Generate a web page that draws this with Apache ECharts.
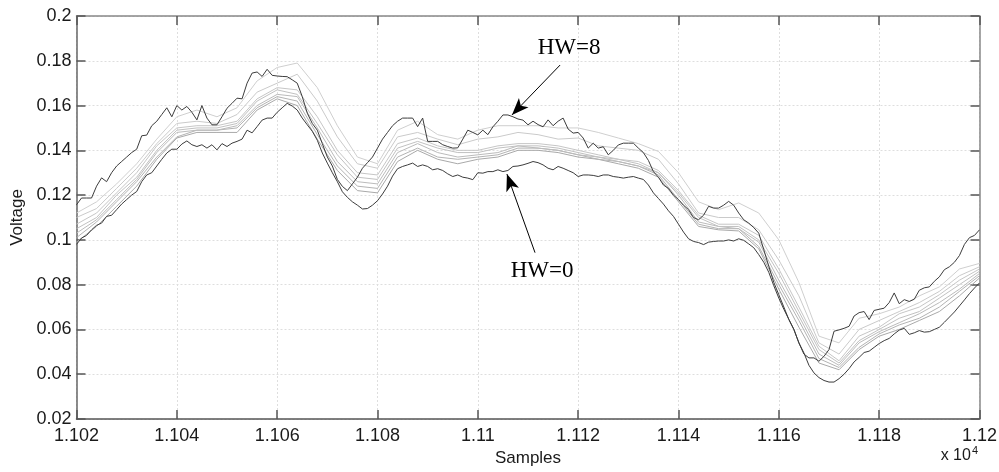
<!DOCTYPE html>
<html><head><meta charset="utf-8">
<script src="https://cdn.jsdelivr.net/npm/echarts@6/dist/echarts.min.js"></script>
<style>html,body{margin:0;padding:0;background:#fff}#c{width:999px;height:472px}</style>
</head><body><div id="c"></div>
<script>
// sample positions: every sample (dark curves) and every 4th sample (grey curves)
const samples1 = [11020,11021,11022,11023,11024,11025,11026,11027,11028,11029,
11030,11031,11032,11033,11034,11035,11036,11037,11038,11039,
11040,11041,11042,11043,11044,11045,11046,11047,11048,11049,
11050,11051,11052,11053,11054,11055,11056,11057,11058,11059,
11060,11061,11062,11063,11064,11065,11066,11067,11068,11069,
11070,11071,11072,11073,11074,11075,11076,11077,11078,11079,
11080,11081,11082,11083,11084,11085,11086,11087,11088,11089,
11090,11091,11092,11093,11094,11095,11096,11097,11098,11099,
11100,11101,11102,11103,11104,11105,11106,11107,11108,11109,
11110,11111,11112,11113,11114,11115,11116,11117,11118,11119,
11120,11121,11122,11123,11124,11125,11126,11127,11128,11129,
11130,11131,11132,11133,11134,11135,11136,11137,11138,11139,
11140,11141,11142,11143,11144,11145,11146,11147,11148,11149,
11150,11151,11152,11153,11154,11155,11156,11157,11158,11159,
11160,11161,11162,11163,11164,11165,11166,11167,11168,11169,
11170,11171,11172,11173,11174,11175,11176,11177,11178,11179,
11180,11181,11182,11183,11184,11185,11186,11187,11188,11189,
11190,11191,11192,11193,11194,11195,11196,11197,11198,11199,
11200];
const samples4 = [11020,11024,11028,11032,11036,11040,11044,11048,11052,11056,11060,11064,11068,11072,11076,11080,11084,11088,11092,11096,11100,11104,11108,11112,11116,11120,11124,11128,11132,11136,11140,11144,11148,11152,11156,11160,11164,11168,11172,11176,11180,11184,11188,11192,11196,11200];

const hw8 = [0.1157,0.1187,0.1187,0.1187,0.124,0.1277,0.126,0.130,0.133,0.135,
0.137,0.139,0.1405,0.1465,0.1468,0.151,0.153,0.156,0.159,0.155,
0.160,0.158,0.1596,0.157,0.1536,0.160,0.1544,0.1514,0.1514,0.155,
0.1588,0.161,0.1633,0.163,0.170,0.1745,0.175,0.173,0.1762,0.1735,
0.1732,0.173,0.1729,0.1715,0.170,0.164,0.1566,0.152,0.149,0.143,
0.137,0.133,0.127,0.1239,0.122,0.125,0.128,0.132,0.1345,0.137,
0.141,0.145,0.148,0.151,0.153,0.1544,0.1544,0.1544,0.1506,0.1544,
0.144,0.144,0.144,0.1425,0.1417,0.141,0.1411,0.145,0.149,0.148,
0.1469,0.149,0.147,0.1505,0.153,0.1558,0.1558,0.155,0.154,0.1535,
0.1514,0.153,0.1515,0.1505,0.1536,0.151,0.153,0.1544,0.1495,0.1477,
0.148,0.1455,0.141,0.1432,0.141,0.1416,0.138,0.140,0.1424,0.1432,
0.1432,0.1432,0.141,0.139,0.1355,0.1305,0.128,0.1245,0.123,0.120,
0.118,0.1155,0.1135,0.110,0.109,0.111,0.115,0.1142,0.1142,0.1155,
0.1172,0.1155,0.112,0.109,0.1075,0.1055,0.103,0.0956,0.0882,0.081,
0.0755,0.070,0.0644,0.060,0.054,0.049,0.0473,0.0473,0.0458,0.048,
0.051,0.0592,0.0598,0.0605,0.0614,0.066,0.0675,0.068,0.0644,0.0685,
0.069,0.0695,0.072,0.0763,0.0715,0.0733,0.0725,0.0735,0.0775,0.0786,
0.079,0.0815,0.0835,0.0867,0.088,0.090,0.093,0.098,0.101,0.102,
0.1045];
const hw0 = [0.098,0.1008,0.102,0.1045,0.1065,0.1075,0.1105,0.111,0.1135,0.116,
0.118,0.120,0.1216,0.126,0.129,0.130,0.133,0.136,0.1388,0.1405,
0.1405,0.1428,0.1442,0.1425,0.1417,0.1425,0.141,0.1425,0.1402,0.143,
0.1417,0.1432,0.144,0.145,0.149,0.1478,0.1506,0.1535,0.1544,0.1544,
0.157,0.159,0.161,0.1598,0.158,0.1544,0.1514,0.1485,0.1445,0.1388,
0.1343,0.130,0.126,0.1215,0.119,0.117,0.1155,0.1138,0.114,0.1155,
0.1175,0.1205,0.124,0.1285,0.1318,0.1328,0.1335,0.1343,0.1328,0.1335,
0.1328,0.1313,0.1318,0.131,0.1295,0.1283,0.129,0.128,0.1276,0.1269,
0.130,0.1298,0.1305,0.1305,0.1313,0.1305,0.131,0.1328,0.133,0.1335,
0.1342,0.135,0.1345,0.1335,0.132,0.1313,0.1328,0.132,0.131,0.130,
0.1283,0.129,0.129,0.1288,0.1283,0.129,0.129,0.1283,0.128,0.1276,
0.128,0.1283,0.1276,0.127,0.1245,0.121,0.1185,0.116,0.113,0.1105,
0.107,0.1035,0.1005,0.0993,0.0988,0.0979,0.099,0.0993,0.0995,0.0995,
0.100,0.0995,0.1005,0.0998,0.0982,0.0965,0.0934,0.090,0.0855,0.0795,
0.074,0.069,0.0645,0.060,0.054,0.0495,0.044,0.0406,0.0385,0.0372,
0.0365,0.0365,0.038,0.040,0.0425,0.0455,0.0475,0.0497,0.0503,0.052,
0.0537,0.055,0.056,0.058,0.0597,0.0605,0.0578,0.0585,0.0595,0.0588,
0.059,0.060,0.061,0.0632,0.0655,0.0678,0.0705,0.0732,0.076,0.0785,
0.0808];
const hw1 = [0.099,0.106,0.115,0.124,0.136,0.1455,0.148,0.148,0.148,0.158,0.163,0.160,0.145,0.131,0.122,0.121,0.135,0.140,0.136,0.134,0.136,0.137,0.140,0.140,0.139,0.137,0.136,0.134,0.132,0.128,0.117,0.106,0.1045,0.104,0.096,0.078,0.061,0.045,0.042,0.051,0.057,0.060,0.064,0.068,0.075,0.083];
const hw2 = [0.101,0.108,0.117,0.126,0.137,0.146,0.149,0.149,0.150,0.159,0.164,0.162,0.147,0.133,0.124,0.123,0.137,0.141,0.137,0.136,0.137,0.138,0.141,0.141,0.140,0.138,0.136,0.135,0.133,0.129,0.118,0.107,0.105,0.105,0.097,0.080,0.064,0.047,0.043,0.052,0.058,0.062,0.065,0.070,0.077,0.084];
const hw3 = [0.103,0.109,0.118,0.127,0.139,0.148,0.149,0.149,0.151,0.160,0.165,0.164,0.150,0.135,0.126,0.125,0.139,0.143,0.139,0.137,0.138,0.139,0.142,0.141,0.140,0.138,0.137,0.135,0.133,0.130,0.120,0.108,0.106,0.105,0.099,0.082,0.066,0.049,0.044,0.054,0.059,0.063,0.067,0.072,0.078,0.085];
const hw4 = [0.105,0.110,0.120,0.128,0.140,0.149,0.150,0.150,0.152,0.162,0.167,0.165,0.152,0.138,0.128,0.127,0.141,0.144,0.141,0.139,0.139,0.141,0.142,0.142,0.141,0.139,0.137,0.136,0.134,0.130,0.121,0.110,0.106,0.106,0.100,0.085,0.068,0.051,0.045,0.055,0.060,0.065,0.068,0.074,0.080,0.086];
const hw5 = [0.107,0.112,0.121,0.130,0.142,0.150,0.151,0.151,0.153,0.163,0.168,0.167,0.155,0.140,0.130,0.129,0.143,0.1455,0.142,0.140,0.140,0.142,0.143,0.143,0.142,0.140,0.138,0.136,0.135,0.131,0.122,0.111,0.107,0.107,0.102,0.087,0.070,0.0525,0.046,0.057,0.061,0.067,0.070,0.0755,0.082,0.087];
const hw6 = [0.110,0.114,0.123,0.132,0.143,0.152,0.153,0.152,0.156,0.166,0.170,0.174,0.162,0.146,0.134,0.132,0.146,0.148,0.145,0.1425,0.145,0.146,0.148,0.147,0.145,0.1455,0.142,0.141,0.140,0.136,0.125,0.112,0.110,0.110,0.1045,0.091,0.075,0.054,0.049,0.060,0.064,0.068,0.072,0.077,0.084,0.088];
const hw7 = [0.112,0.117,0.125,0.134,0.145,0.155,0.158,0.155,0.159,0.171,0.177,0.179,0.168,0.151,0.137,0.134,0.149,0.153,0.147,0.145,0.149,0.151,0.151,0.151,0.150,0.150,0.148,0.1455,0.143,0.1395,0.130,0.117,0.1135,0.1165,0.112,0.100,0.081,0.057,0.054,0.065,0.067,0.070,0.075,0.079,0.087,0.0895];

// annotations (data coordinates)
const labelHW8 = {text:'HW=8', at:[11118.2,0.1859], from:[11116.4,0.1781], to:[11106.8,0.1558]};
const labelHW0 = {text:'HW=0', at:[11112.8,0.0861], from:[11111.4,0.0943], to:[11105.8,0.1294]};

const xTicksFmt = v => String(parseFloat((v/10000).toFixed(4)));
const yTicksFmt = v => String(parseFloat(v.toFixed(2)));

const pair = (xs, ys) => ys.map((y,i)=>[xs[i], y]);

const chart = echarts.init(document.getElementById('c'), null, {renderer:'canvas'});
const txt = '#1a1a1a';
const font = 'Liberation Sans';
const grayLines = [
  {name:'HW=1', d:hw1, c:'#a9a9a9'},
  {name:'HW=2', d:hw2, c:'#b3b3b3'},
  {name:'HW=3', d:hw3, c:'#bbbbbb'},
  {name:'HW=4', d:hw4, c:'#c1c1c1'},
  {name:'HW=5', d:hw5, c:'#c6c6c6'},
  {name:'HW=6', d:hw6, c:'#cacaca'},
  {name:'HW=7', d:hw7, c:'#cfcfcf'}
];
const series = grayLines.map(g => ({
  type:'line', name:g.name, data:pair(samples4, g.d), showSymbol:false,
  lineStyle:{color:g.c, width:1}, xAxisIndex:0, yAxisIndex:0, z:2
}));
function ann(a){
  return {
    markLine:{silent:true, symbol:['none','arrow'], symbolSize:[10,17], animation:false,
      lineStyle:{color:'#000', width:1, type:'solid'}, label:{show:false},
      data:[[{coord:a.from},{coord:a.to}]]},
    markPoint:{silent:true, symbol:'circle', symbolSize:1, itemStyle:{color:'rgba(0,0,0,0)'},
      label:{show:true, position:'inside', formatter:a.text, color:'#000', fontFamily:'Liberation Serif', fontSize:23},
      data:[{coord:a.at}]}
  };
}
series.push(Object.assign({type:'line', name:'HW=0', data:pair(samples1, hw0), showSymbol:false,
  lineStyle:{color:'#3c3c3c', width:1}, z:3}, ann(labelHW0)));
series.push(Object.assign({type:'line', name:'HW=8', data:pair(samples1, hw8), showSymbol:false,
  lineStyle:{color:'#3c3c3c', width:1}, z:3}, ann(labelHW8)));

const baseX = {type:'value', min:11020, max:11200, interval:20};
const baseY = {type:'value', min:0.02, max:0.2, interval:0.02};
chart.setOption({
  animation:false,
  backgroundColor:'#fff',
  grid:{left:76.5, right:19.5, top:16, bottom:53, containLabel:false, outerBoundsMode:'none'},
  xAxis:[
    Object.assign({}, baseX, {position:'bottom',
      name:'Samples', nameLocation:'middle', nameGap:30,
      nameTextStyle:{fontFamily:font, fontSize:17, color:txt},
      axisLine:{lineStyle:{color:'#555', width:1.5}},
      axisTick:{inside:true, length:9, lineStyle:{color:'#555', width:1.5}},
      axisLabel:{formatter:xTicksFmt, fontFamily:font, fontSize:18, color:txt, margin:8},
      splitLine:{show:true, lineStyle:{color:'#dedede', type:[2,2], width:1}}}),
    Object.assign({}, baseX, {position:'top',
      axisLine:{show:true, lineStyle:{color:'#888', width:1.5}},
      axisTick:{show:true, inside:true, length:9, lineStyle:{color:'#555', width:1.5}},
      axisLabel:{show:false}, splitLine:{show:false}})
  ],
  yAxis:[
    Object.assign({}, baseY, {position:'left',
      name:'Voltage', nameLocation:'middle', nameGap:51, nameRotate:90,
      nameTextStyle:{fontFamily:font, fontSize:17, color:txt},
      axisLine:{show:true, lineStyle:{color:'#666', width:1.5}},
      axisTick:{show:true, inside:true, length:9, lineStyle:{color:'#555', width:1.5}},
      axisLabel:{formatter:yTicksFmt, fontFamily:font, fontSize:18, color:txt, margin:5},
      splitLine:{show:true, lineStyle:{color:'#dedede', type:[2,2], width:1}}}),
    Object.assign({}, baseY, {position:'right',
      axisLine:{show:true, lineStyle:{color:'#888', width:1.5}},
      axisTick:{show:true, inside:true, length:9, lineStyle:{color:'#555', width:1.5}},
      axisLabel:{show:false}, splitLine:{show:false}})
  ],
  graphic:[{
    type:'text', right:21, top:445,
    style:{text:'x 10{s|4}', fill:txt, font:'16px "Liberation Sans"',
      rich:{s:{fontSize:11, fontFamily:font, verticalAlign:'top', padding:[0,0,10,1]}}}
  }],
  series:series
});
</script></body></html>
